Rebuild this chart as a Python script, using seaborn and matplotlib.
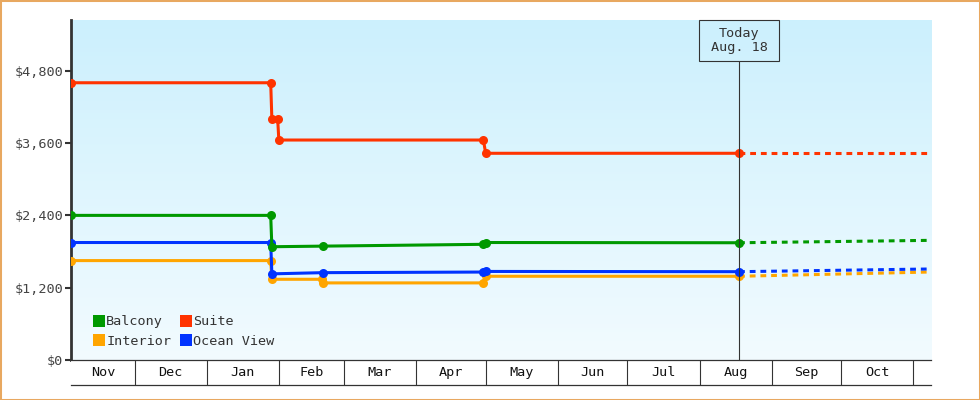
import matplotlib
matplotlib.use('Agg')
import matplotlib.pyplot as plt
import matplotlib.dates as mdates
from matplotlib.colors import LinearSegmentedColormap
from matplotlib.lines import Line2D
from matplotlib.patches import Rectangle
import numpy as np
import pandas as pd
import seaborn as sns

START = '2014-11-03 14:00'
END = '2015-11-08 14:00'
TODAY = '2015-08-18'

cabins = ['Balcony', 'Interior', 'Suite', 'Ocean View']
colors = {'Balcony': '#009900', 'Interior': '#ffa500',
          'Suite': '#ff3300', 'Ocean View': '#0033ff'}

balcony_dates = [START, '2015-01-28 12:00', '2015-01-29', '2015-02-20',
                 '2015-04-30', '2015-05-01', TODAY]
balcony_prices = [2399, 2399, 1879, 1889, 1919, 1949, 1945]

interior_dates = [START, '2015-01-28 12:00', '2015-01-29', '2015-02-19 18:00',
                  '2015-02-20', '2015-04-30', '2015-05-01', TODAY]
interior_prices = [1649, 1649, 1339, 1339, 1279, 1279, 1389, 1389]

suite_dates = [START, '2015-01-28 12:00', '2015-01-29', '2015-01-31 12:00',
               '2015-02-01', '2015-04-30', '2015-05-01', TODAY]
suite_prices = [4599, 4599, 3999, 3999, 3649, 3649, 3429, 3429]

ocean_dates = [START, '2015-01-28 12:00', '2015-01-29', '2015-02-20',
               '2015-04-30', '2015-05-01', TODAY]
ocean_prices = [1949, 1949, 1429, 1449, 1459, 1469, 1465]

# projected price at the end of the range
forecast_end = {'Balcony': 1985, 'Interior': 1460, 'Suite': 3429, 'Ocean View': 1510}

yticks = [0, 1200, 2400, 3600, 4800]
YMAX = 5640


def build_frame():
    parts = []
    for name, d, p in [('Balcony', balcony_dates, balcony_prices),
                       ('Interior', interior_dates, interior_prices),
                       ('Suite', suite_dates, suite_prices),
                       ('Ocean View', ocean_dates, ocean_prices)]:
        dates = pd.to_datetime(d, format='mixed')
        parts.append(pd.DataFrame({'date': dates, 'price': p, 'cabin': name}))
    return pd.concat(parts, ignore_index=True)


def build_forecast(hist):
    rows = []
    for name in cabins:
        last = hist[hist.cabin == name].iloc[-1]
        rows.append({'date': last.date, 'price': last.price, 'cabin': name})
        rows.append({'date': pd.Timestamp(END), 'price': forecast_end[name], 'cabin': name})
    return pd.DataFrame(rows)


hist = build_frame()
future = build_forecast(hist)

sns.set_style('white')
plt.rcParams['font.family'] = ['DejaVu Sans Mono']
plt.rcParams['font.size'] = 9.7
DARK = '#333333'

fig = plt.figure(figsize=(9.8, 4.0), dpi=100)
W, H = 980, 400
ax = fig.add_axes([71 / W, 40 / H, 860 / W, 340 / H])
band = fig.add_axes([71 / W, 15 / H, 860 / W, 25 / H], sharex=ax)

x0, x1 = mdates.date2num(pd.Timestamp(START)), mdates.date2num(pd.Timestamp(END))

# gradient background
grad = np.linspace(0, 1, 256).reshape(-1, 1)
cmap = LinearSegmentedColormap.from_list('bg', ['#ccf0fd', '#f2fbff'])
ax.imshow(grad, aspect='auto', cmap=cmap, extent=[0, 1, 0, 1],
          transform=ax.transAxes, zorder=0)

for name in ['Interior', 'Ocean View', 'Balcony', 'Suite']:
    sub = hist[hist.cabin == name]
    sns.lineplot(data=sub, x='date', y='price', ax=ax, color=colors[name],
                 estimator=None, sort=False, linewidth=2.2, marker='o',
                 markersize=6.5, markeredgewidth=0, zorder=3)
    fsub = future[future.cabin == name]
    sns.lineplot(data=fsub, x='date', y='price', ax=ax, color=colors[name],
                 estimator=None, sort=False, linewidth=2.2,
                 linestyle=(0, (1.9, 1.6)), zorder=2)

ax.set_xlim(x0, x1)
ax.set_ylim(0, YMAX)
ax.set_yticks(yticks)
ax.set_yticklabels([f'${v:,}' for v in yticks])
ax.tick_params(axis='y', length=4.5, width=1.5, color=DARK, labelcolor='#444444',
               pad=1, left=True)
ax.tick_params(axis='x', bottom=False, labelbottom=False)
ax.set_xlabel('')
ax.set_ylabel('')
for s in ['top', 'right', 'bottom']:
    ax.spines[s].set_visible(False)
ax.spines['left'].set_color(DARK)
ax.spines['left'].set_linewidth(2)
ax.grid(False)

# legend
handles = [Line2D([], [], marker='s', linestyle='', markersize=8,
                  markerfacecolor=colors[c], markeredgewidth=0) for c in cabins]
leg = ax.legend(handles, cabins, ncol=2, loc='lower left',
                bbox_to_anchor=(0.026, 0.035), frameon=False, borderpad=0,
                handlelength=0.8, handletextpad=0.15, columnspacing=0.7,
                labelspacing=0.5, borderaxespad=0)
for t in leg.get_texts():
    t.set_color(DARK)

# today marker
today = mdates.date2num(pd.Timestamp(TODAY))
box_h = 41 / 340
ax.axvline(today, ymin=0, ymax=1 - box_h, color=DARK, linewidth=0.8, zorder=4)
px = ax.transData.transform((today, 0))[0]
fx = px / W
fig.add_artist(Rectangle((fx - 40 / W, (400 - 61) / H), 80 / W, 41 / H,
                         transform=fig.transFigure, facecolor='none',
                         edgecolor=DARK, linewidth=0.8))
fig.text(fx, (400 - 40.5) / H, 'Today\nAug. 18', ha='center', va='center',
         color=DARK, linespacing=1.2)

# month band below the plot
band.set_ylim(0, 1)
band.set_facecolor('white')
bounds = pd.date_range('2014-11-01', '2015-12-01', freq='MS')
bnums = [mdates.date2num(b) for b in bounds]
for b in bnums:
    if x0 < b < x1:
        band.axvline(b, color=DARK, linewidth=0.8)
for a, b, lab in zip(bnums[:-1], bnums[1:], bounds[:-1]):
    lo, hi = max(a, x0), min(b, x1)
    if hi - lo > 12:
        band.text((lo + hi) / 2, 0.5, lab.strftime('%b'), ha='center', va='center',
                  color='#111111')
band.set_yticks([])
band.tick_params(axis='x', bottom=False, labelbottom=False)
for s in ['left', 'right']:
    band.spines[s].set_visible(False)
for s in ['top', 'bottom']:
    band.spines[s].set_color(DARK)
    band.spines[s].set_linewidth(0.9)

fig.add_artist(Rectangle((0, 0), 1, 1, transform=fig.transFigure, fill=False,
                         edgecolor='#e8a860', linewidth=2.2))

fig.savefig('out.png', dpi=100)
